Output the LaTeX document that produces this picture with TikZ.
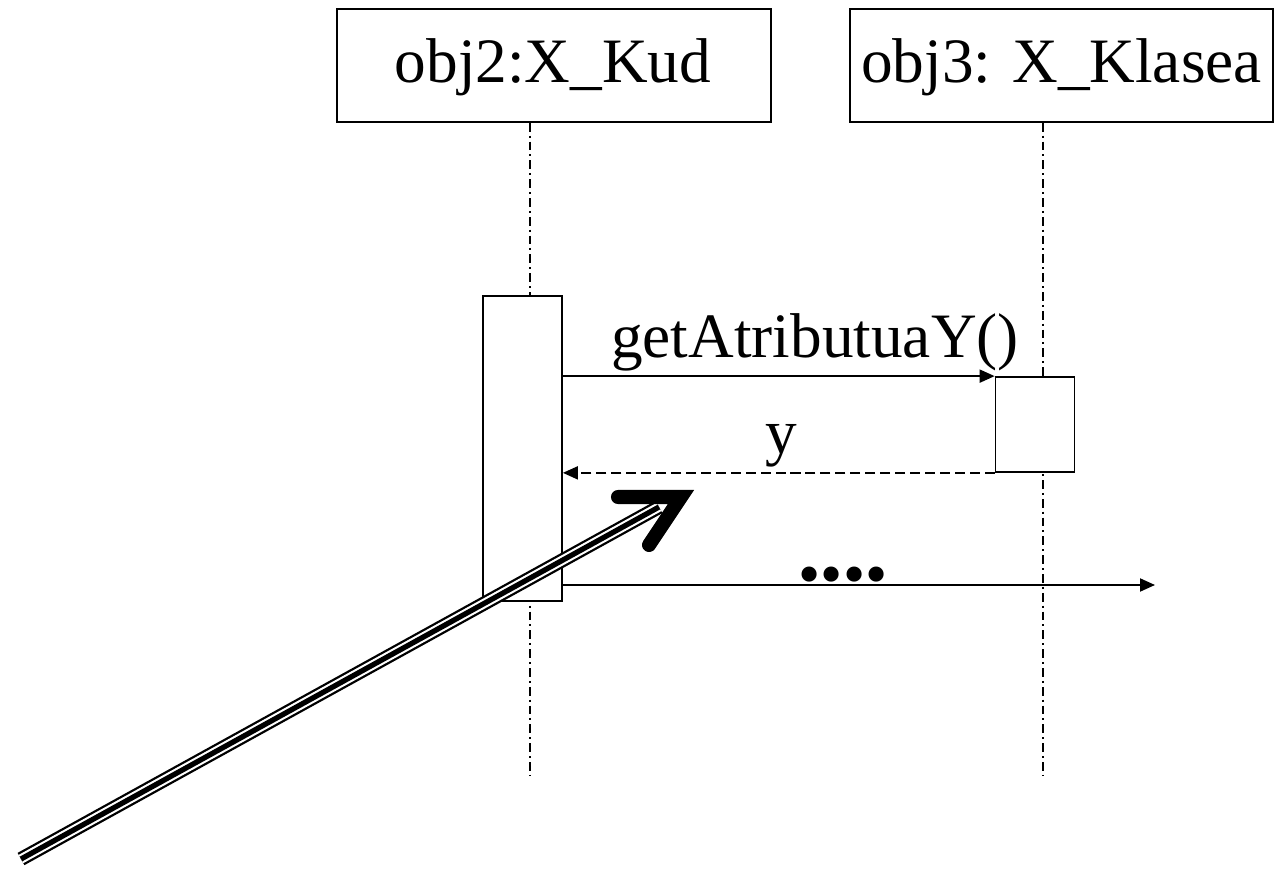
\documentclass[tikz,border=0pt]{standalone}
\usepackage{fontspec}
\setmainfont{Liberation Serif}
\usepackage{tikz}
\usetikzlibrary{positioning,arrows.meta,calc}

\begin{document}
\begin{tikzpicture}[
    x=0.02cm, y=-0.02cm,
    every node/.style = {font=\fontsize{36}{40}\selectfont, inner sep=0pt},
    obj/.style = {draw, line width=1pt, minimum height=2.26cm},
    act/.style = {draw, line width=1pt, minimum width=1.58cm},
    lifeline/.style = {line width=0.6pt, dash pattern=on 5pt off 2.3pt on 1.1pt off 2.3pt},
    msg/.style = {line width=1.1pt, -{Triangle[length=0.3cm, width=0.26cm]}},
    ret/.style = {msg, dash pattern=on 5.7pt off 2.8pt},
    >=stealth
  ]
  \useasboundingbox (0,0) rectangle (1283,878);

  % objektuak
  \node[obj, minimum width=8.68cm] (obj2) at (554,65.5) {};
  \node[obj, minimum width=8.46cm] (obj3) at (1061.5,65.5) {};
  \node[anchor=base] (obj2txt) at (553,83) {obj2:X\_Kud};
  \node[anchor=base] (obj3txt) at (1061.5,83) {obj3: X\_Klasea};

  % bizi-lerroak
  \coordinate (life2) at (530,775);
  \coordinate (life3) at (1043,775);
  \draw[lifeline] (obj2.south -| life2) -- (life2);
  \draw[lifeline] (obj3.south -| life3) -- (life3);

  % aktibazioak
  \node[act, minimum height=6.1cm, fill=white] (act2) at (522.5,448.5) {};
  \node[act, minimum height=1.9cm, fill=white] (act3) at (1035,424.5) {};

  % mezuak
  \draw[msg] (act2.east |- act3.north west) -- (act3.north west);
  \node[anchor=base] (getlbl) at (815,357) {getAtributuaY()};
  \draw[ret] (act3.south west) -- (act2.east |- act3.south west);
  \node[anchor=base] (ylbl) at (781,453) {y};
  \coordinate (msgend) at (1155,585);
  \draw[msg] (act2.east |- msgend) -- (msgend);
  \node[anchor=base] (dots) at (843,595) {••••};

  % gezi handia
  \coordinate (tail) at (21,859);
  \coordinate (head) at (659,507);
  \coordinate (tip) at (681,497);
  \draw[line width=8pt] (tail) -- (head);
  \draw[line width=5.4pt, white] (tail) -- (head);
  \draw[line width=3pt] (tail) -- (head);
  \draw[line width=8pt, line cap=round, line join=miter]
    ($(tip)+(-63,0)$) -- (tip) -- ($(tip)+(-32,48)$);
\end{tikzpicture}
\end{document}
